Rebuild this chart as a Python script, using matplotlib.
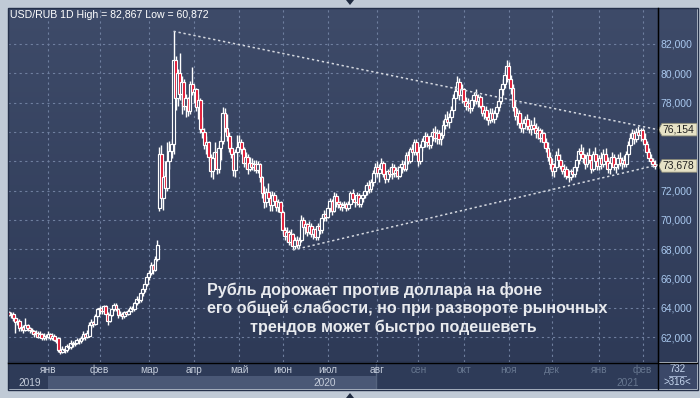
import matplotlib
matplotlib.use("Agg")
import matplotlib.pyplot as plt
import numpy as np
from matplotlib.patches import Rectangle, Polygon
from matplotlib.colors import LinearSegmentedColormap

# ─── Data: daily USD/RUB candles (open, high, low, close), per month ─────────
dec19 = [(63.7, 63.8, 63.4, 63.5), (63.5, 63.7, 63.3, 63.6), (63.6, 63.7, 63.1, 63.3), (63.3, 63.4, 62.3, 63.0),
         (63.0, 63.3, 62.8, 63.1), (63.1, 63.2, 62.4, 62.6), (62.6, 62.9, 62.4, 62.7), (62.7, 62.8, 62.3, 62.5),
         (62.5, 63.3, 62.4, 62.8), (62.8, 62.9, 62.4, 62.6), (62.6, 62.7, 62.3, 62.5), (62.5, 62.6, 62.2, 62.4),
         (62.4, 62.5, 62.0, 62.2), (62.2, 62.5, 62.1, 62.3), (62.3, 62.4, 61.9, 62.0), (62.0, 62.4, 61.9, 62.2),
         (62.2, 62.3, 61.8, 61.9), (61.9, 62.3, 61.8, 62.1), (62.1, 62.2, 61.8, 62.0)]
jan20 = [(62.0, 62.4, 61.9, 62.2), (62.2, 62.3, 61.8, 61.9), (61.9, 62.3, 61.8, 62.1), (62.1, 62.2, 61.7, 61.8),
         (61.8, 62.0, 61.6, 61.7), (61.9, 62.0, 61.0, 61.1), (61.1, 61.3, 60.87, 61.0), (61.0, 61.4, 60.9, 61.2),
         (61.2, 61.3, 60.9, 61.1), (61.1, 61.5, 61.0, 61.4), (61.4, 61.6, 61.2, 61.3), (61.3, 61.8, 61.2, 61.6),
         (61.6, 61.7, 61.3, 61.5), (61.5, 61.8, 61.4, 61.6), (61.6, 61.9, 61.5, 61.8), (61.8, 61.9, 61.5, 61.7),
         (61.7, 62.1, 61.6, 61.9), (61.9, 62.4, 61.8, 62.2), (62.2, 62.3, 61.8, 62.0), (62.0, 62.5, 61.9, 62.3),
         (62.1, 63.0, 62.0, 62.8), (62.8, 63.2, 62.6, 63.0), (63.0, 63.1, 62.7, 62.9), (62.9, 63.6, 62.8, 63.4),
         (63.4, 64.0, 63.3, 63.9)]
feb20 = [(63.9, 64.1, 63.6, 64.0), (64.0, 64.1, 63.6, 63.8), (63.8, 64.2, 63.7, 64.1), (64.1, 64.2, 63.5, 63.6),
         (63.6, 63.7, 62.8, 63.1), (63.1, 63.7, 63.0, 63.5), (63.5, 64.0, 63.4, 63.9), (63.9, 64.3, 63.8, 64.2),
         (64.2, 64.3, 63.8, 63.9), (63.9, 64.0, 63.3, 63.5), (63.5, 63.8, 63.4, 63.6), (63.6, 63.7, 63.2, 63.4),
         (63.4, 63.8, 63.3, 63.7), (63.7, 63.8, 63.4, 63.6), (63.6, 63.9, 63.5, 63.8), (63.8, 64.1, 63.7, 64.0),
         (64.0, 64.1, 63.7, 63.9), (63.9, 64.4, 63.8, 64.3), (64.3, 64.8, 64.2, 64.6), (64.6, 64.8, 64.3, 64.5),
         (64.5, 65.1, 64.4, 65.0), (65.0, 65.4, 64.8, 65.3), (65.3, 65.8, 65.1, 65.6), (65.6, 66.3, 65.5, 66.1)]
mar20 = [(66.1, 66.6, 65.9, 66.4), (66.4, 67.1, 66.2, 66.9), (66.9, 67.0, 66.3, 66.6), (66.6, 67.5, 66.5, 67.3),
         (67.3, 68.6, 67.2, 68.3), (70.8, 75.0, 70.6, 74.5), (74.5, 75.1, 70.8, 71.5), (71.5, 73.3, 70.7, 72.9),
         (73.0, 74.0, 71.9, 72.2), (72.2, 75.3, 72.0, 74.0), (74.0, 75.4, 73.5, 74.7), (74.7, 75.5, 74.2, 75.2),
         (75.2, 82.867, 74.5, 80.9), (80.9, 81.2, 77.5, 78.3), (78.3, 80.3, 77.8, 80.0), (80.0, 81.4, 78.2, 78.6),
         (78.6, 79.8, 77.2, 79.4), (79.4, 79.6, 77.5, 77.8), (77.8, 78.6, 77.0, 78.3), (78.3, 78.4, 77.1, 77.4),
         (77.4, 79.5, 77.2, 79.3), (79.3, 80.4, 78.5, 78.7)]
apr20 = [(78.7, 79.2, 78.0, 78.9), (78.9, 79.0, 77.4, 77.7), (77.7, 78.6, 76.9, 78.2), (78.2, 78.3, 75.9, 76.2),
         (76.2, 77.0, 75.6, 76.0), (76.0, 76.3, 74.8, 75.1), (75.1, 75.7, 74.5, 75.3), (75.3, 75.4, 74.0, 74.3),
         (74.3, 74.5, 72.9, 73.3), (73.3, 74.6, 72.8, 74.2), (74.2, 75.3, 73.9, 74.6), (74.6, 74.8, 73.1, 73.5),
         (73.5, 75.1, 73.2, 74.9), (74.9, 75.7, 74.1, 75.4), (75.4, 77.7, 75.2, 77.3), (77.3, 77.6, 76.0, 76.3),
         (76.3, 77.2, 75.4, 75.7), (75.7, 76.0, 74.6, 74.9), (74.9, 75.3, 74.2, 74.5), (74.5, 74.7, 73.0, 73.4),
         (73.4, 74.8, 72.9, 74.6), (74.6, 75.8, 74.1, 75.0)]
may20 = [(75.0, 75.8, 74.7, 75.3), (75.3, 75.5, 74.5, 74.8), (74.8, 75.0, 73.6, 73.9), (73.9, 74.6, 73.5, 74.3),
         (74.3, 74.5, 73.1, 73.5), (73.5, 74.3, 73.3, 73.9), (73.9, 74.2, 73.4, 73.6), (73.6, 74.1, 73.3, 73.8),
         (73.8, 74.1, 73.2, 73.4), (73.4, 74.0, 73.2, 73.8), (73.8, 73.9, 72.6, 72.9), (72.9, 73.0, 71.5, 71.8),
         (71.8, 72.3, 70.8, 71.2), (71.2, 72.2, 70.9, 71.9), (71.9, 72.5, 71.3, 71.5), (71.5, 71.9, 70.6, 71.0),
         (71.0, 72.0, 70.6, 71.7), (71.7, 71.9, 71.0, 71.3), (71.3, 71.6, 70.6, 70.9), (70.9, 71.4, 70.5, 71.2),
         (71.2, 71.3, 70.1, 70.5)]
jun20 = [(70.5, 70.6, 69.0, 69.3), (69.3, 69.5, 68.6, 68.9), (68.9, 69.5, 68.5, 69.2), (69.2, 69.3, 68.3, 68.5),
         (68.5, 69.4, 68.3, 69.0), (69.0, 69.1, 68.0, 68.2), (68.2, 68.8, 68.0, 68.6), (68.6, 68.9, 68.1, 68.3),
         (68.3, 68.8, 68.1, 68.6), (68.6, 70.3, 68.5, 70.0), (70.0, 70.2, 69.3, 69.5), (69.5, 69.9, 69.0, 69.7),
         (69.7, 69.8, 68.9, 69.2), (69.2, 69.9, 69.0, 69.6), (69.6, 69.8, 68.8, 69.0), (69.0, 69.6, 68.7, 69.4),
         (69.4, 69.5, 68.6, 68.8), (68.8, 69.8, 68.6, 69.6), (69.6, 69.9, 69.0, 69.3), (69.3, 70.3, 69.1, 70.1),
         (70.1, 70.7, 69.9, 70.4), (70.4, 70.6, 69.9, 70.2)]
jul20 = [(70.2, 71.0, 70.1, 70.8), (70.8, 71.5, 70.5, 71.3), (71.3, 71.4, 70.3, 70.6), (70.6, 71.9, 70.5, 71.6),
         (71.6, 71.8, 70.9, 71.2), (71.2, 71.5, 70.8, 71.1), (71.1, 71.3, 70.7, 70.9), (70.9, 71.2, 70.6, 71.0),
         (71.0, 71.3, 70.8, 71.1), (71.1, 71.2, 70.6, 70.8), (70.8, 71.3, 70.7, 71.1), (71.1, 72.0, 71.0, 71.8),
         (71.8, 72.1, 71.2, 71.4), (71.4, 71.6, 70.9, 71.2), (71.2, 71.9, 71.0, 71.7), (71.7, 71.8, 70.9, 71.1),
         (71.1, 71.7, 70.9, 71.5), (71.5, 71.9, 71.2, 71.7), (71.7, 72.3, 71.5, 72.0), (72.0, 72.6, 71.7, 72.4),
         (72.4, 72.7, 71.8, 72.1), (72.1, 72.8, 71.9, 72.6), (72.6, 73.4, 72.3, 73.2), (73.2, 73.9, 72.9, 73.6)]
aug20 = [(73.6, 74.0, 72.9, 73.2), (73.2, 73.8, 72.6, 73.5), (73.5, 74.2, 73.2, 73.9), (73.9, 74.0, 72.9, 73.1),
         (73.1, 73.4, 72.5, 72.8), (72.8, 73.5, 72.6, 73.3), (73.3, 73.6, 72.9, 73.1), (73.1, 73.9, 72.8, 73.6),
         (73.6, 73.8, 72.9, 73.2), (73.2, 73.6, 72.9, 73.4), (73.4, 73.7, 72.8, 73.0), (73.0, 73.8, 72.9, 73.6),
         (73.6, 74.1, 73.2, 73.8), (73.8, 74.0, 73.3, 73.5), (73.5, 74.6, 73.3, 74.4), (74.4, 74.7, 73.8, 74.0),
         (74.0, 75.0, 73.9, 74.8), (74.8, 75.2, 74.3, 74.6), (74.6, 75.5, 74.4, 75.3), (75.3, 75.5, 74.4, 74.6)]
sep20 = [(74.6, 74.8, 73.7, 74.0), (74.0, 75.2, 73.8, 75.0), (75.0, 75.6, 74.7, 75.4), (75.4, 76.0, 75.0, 75.7),
         (75.7, 75.9, 75.0, 75.3), (75.3, 75.6, 74.8, 75.1), (75.1, 75.9, 74.9, 75.7), (75.7, 76.3, 75.4, 76.0),
         (76.0, 76.4, 75.3, 75.6), (75.6, 76.2, 75.2, 75.9), (75.9, 76.1, 75.2, 75.5), (75.5, 76.0, 75.1, 75.8),
         (75.8, 76.8, 75.6, 76.5), (76.5, 77.2, 76.2, 76.9), (76.9, 77.4, 76.4, 76.7), (76.7, 77.3, 76.3, 77.0),
         (77.0, 77.8, 76.7, 77.5), (77.5, 78.6, 77.2, 78.3), (78.3, 79.1, 77.9, 78.8), (78.8, 79.8, 78.3, 79.4),
         (79.4, 79.7, 78.2, 78.5), (78.5, 79.3, 78.0, 78.9)]
oct20 = [(78.9, 79.0, 77.9, 78.1), (78.1, 78.4, 77.5, 77.8), (77.8, 78.3, 77.4, 78.0), (78.0, 78.2, 77.3, 77.6),
         (77.6, 78.4, 77.4, 78.2), (78.2, 78.7, 77.8, 78.5), (78.5, 78.9, 77.9, 78.1), (78.1, 78.6, 77.7, 78.4),
         (78.4, 78.5, 77.6, 77.8), (77.8, 78.0, 77.1, 77.3), (77.3, 77.7, 76.9, 77.5), (77.5, 77.8, 76.8, 77.0),
         (77.0, 77.4, 76.5, 76.8), (76.8, 77.6, 76.6, 77.3), (77.3, 77.6, 76.7, 76.9), (76.9, 77.5, 76.6, 77.3),
         (77.3, 77.9, 77.0, 77.7), (77.7, 78.4, 77.4, 78.1), (78.1, 79.1, 77.9, 78.9), (78.9, 79.6, 78.5, 79.3),
         (79.3, 80.2, 79.0, 79.9), (79.9, 80.9, 79.4, 80.5)]
nov20 = [(80.5, 80.8, 79.3, 79.6), (79.6, 79.9, 78.6, 79.0), (79.0, 79.3, 77.4, 77.7), (77.7, 78.2, 76.8, 77.1),
         (77.1, 77.6, 76.5, 77.3), (77.3, 77.5, 76.3, 76.6), (76.6, 77.2, 76.0, 76.3), (76.3, 76.9, 75.9, 76.6),
         (76.6, 77.1, 76.2, 76.9), (76.9, 77.2, 76.1, 76.4), (76.4, 76.9, 75.9, 76.2), (76.2, 76.8, 75.8, 76.5),
         (76.5, 77.0, 76.1, 76.3), (76.3, 76.6, 75.6, 75.9), (75.9, 76.4, 75.5, 76.1), (76.1, 76.3, 75.3, 75.6),
         (75.6, 76.2, 75.3, 75.9), (75.9, 76.0, 75.0, 75.3), (75.3, 75.6, 74.6, 74.9), (74.9, 75.3, 74.0, 74.3),
         (74.3, 74.6, 73.5, 73.8)]
dec20 = [(73.8, 74.2, 73.0, 73.3), (73.3, 73.9, 72.9, 73.6), (73.6, 74.7, 73.4, 74.4), (74.4, 74.9, 73.9, 74.1),
         (74.1, 74.5, 73.5, 73.7), (73.7, 74.0, 73.1, 73.3), (73.3, 73.8, 72.9, 73.5), (73.5, 73.7, 72.8, 73.0),
         (73.0, 73.4, 72.6, 72.9), (72.9, 73.5, 72.7, 73.3), (73.3, 73.6, 72.9, 73.1), (73.1, 73.8, 72.9, 73.6),
         (73.6, 74.4, 73.3, 74.1), (74.1, 74.9, 73.8, 74.7), (74.7, 75.2, 74.2, 74.5), (74.5, 75.0, 73.9, 74.2),
         (74.2, 74.5, 73.5, 73.8), (73.8, 74.6, 73.6, 74.4), (74.4, 74.9, 73.9, 74.1), (74.1, 74.3, 73.2, 73.5),
         (73.5, 74.7, 73.3, 74.5), (74.5, 75.0, 73.8, 74.0), (74.0, 74.5, 73.4, 73.7)]
jan21 = [(73.7, 74.4, 73.4, 74.2), (74.2, 74.6, 73.5, 73.8), (73.8, 74.8, 73.6, 74.5), (74.5, 74.9, 73.7, 74.0),
         (74.0, 74.3, 73.2, 73.5), (73.5, 74.2, 73.1, 73.9), (73.9, 74.6, 73.6, 74.3), (74.3, 74.5, 73.4, 73.6),
         (73.6, 74.0, 73.2, 73.8), (73.8, 74.5, 73.5, 74.2), (74.2, 74.6, 73.7, 73.9), (73.9, 74.3, 73.5, 74.1),
         (74.1, 74.4, 73.6, 73.8), (73.8, 74.7, 73.6, 74.5), (74.5, 75.4, 74.3, 75.1), (75.1, 75.9, 74.8, 75.6),
         (75.6, 76.2, 75.2, 75.9), (75.9, 76.1, 75.2, 75.5), (75.5, 76.3, 75.3, 76.0), (76.0, 76.4, 75.5, 75.8),
         (75.8, 76.3, 75.4, 76.1)]
feb21 = [(76.1, 76.3, 75.3, 75.5), (75.5, 75.9, 74.9, 75.2), (75.2, 75.4, 74.4, 74.6), (74.6, 74.9, 74.0, 74.2),
         (74.2, 74.5, 73.8, 74.0), (74.0, 74.2, 73.6, 73.8), (73.8, 74.1, 73.5, 73.678)]

months = [dec19, jan20, feb20, mar20, apr20, may20, jun20, jul20, aug20, sep20, oct20, nov20, dec20, jan21, feb21]
month_labels = ["", "янв", "фев", "мар", "апр", "май", "июн", "июл", "авг", "сен", "окт", "ноя", "дек", "янв", "фев"]
year_labels = ["2019", "2020", "2021"]

price_ticks = [62, 64, 66, 68, 70, 72, 74, 76, 78, 80, 82]
upper_trend = ([80, 315.5], [82.867, 76.154])   # (bar index, price)
lower_trend = ([138, 315.5], [67.94, 73.75])
last_high, last_close = 76.154, 73.678
high_all, low_all = 82.867, 60.872
bars_total, bars_visible = 732, 316

caption = ["Рубль дорожает против доллара на фоне",
           "его общей слабости, но при развороте рыночных",
           "трендов может быстро подешеветь"]

# ─── Flatten ──────────────────────────────────────────────────────────────────
ohlc = np.array([bar for m in months for bar in m])
o, h, l, c = ohlc.T
idx = np.arange(len(ohlc))
month_start = np.cumsum([0] + [len(m) for m in months])[:-1]

def rus(v):
    # 82.867 -> "82,867"
    return f"{v:.3f}".replace(".", ",")

# ─── Layout helpers (pixels of a 700x398 image) ──────────────────────────────
W, H = 700, 398
def box(x0, y0, x1, y1):
    return [x0 / W, 1 - y1 / H, (x1 - x0) / W, (y1 - y0) / H]

XL = (-0.49, 315.5)
YL = (60.294, 84.457)
GRID = "#6f7f9f"
LIGHT = "#c5cddb"
DIM = "#66768f"

fig = plt.figure(figsize=(7, 3.98), dpi=100)
fig.patch.set_facecolor("#c0cad6")
plt.rcParams["font.family"] = ["Liberation Sans", "DejaVu Sans"]

# background gradient behind plot + price axis
bg = fig.add_axes(box(8, 8, 697, 362))
cmap = LinearSegmentedColormap.from_list("bg", ["#3e4b69", "#2e3a57"])
bg.imshow(np.linspace(0, 1, 256)[:, None], aspect="auto", cmap=cmap, extent=(0, 1, 0, 1))
bg.axis("off")

# ─── Main candle axes ─────────────────────────────────────────────────────────
ax = fig.add_axes(box(8, 8, 658, 362))
ax.set_facecolor("none")
ax.set_xlim(*XL)
ax.set_ylim(*YL)

for v in price_ticks:
    ax.axhline(v, color=GRID, lw=0.8, ls=(0, (2, 3)), zorder=1)
for s in month_start[1:]:
    ax.axvline(s, color=GRID, lw=0.8, ls=(0, (2, 3)), zorder=1)

up = c >= o
faces = np.where(up, "#34405e", "#e0102c")
bottoms = np.minimum(o, c)
heights = np.maximum(np.abs(c - o), 0.06)
ax.vlines(idx, l, h, colors="white", lw=1, zorder=3)
ax.bar(idx, heights, bottom=bottoms, width=1.4, color=faces,
       edgecolor="white", linewidth=0.85, zorder=4)

ax.plot(*upper_trend, color="#d4d8e0", lw=1.1, ls=(0, (1.5, 1.8)), zorder=5)
ax.plot(*lower_trend, color="#d4d8e0", lw=1.1, ls=(0, (1.5, 1.8)), zorder=5)

# price labels; 74 and 76 sit under the price tags, as in the terminal
ax.yaxis.tick_right()
ax.set_yticks(price_ticks)
ax.set_yticklabels(["" if v in (74, 76) else f"{v},000" for v in price_ticks])
ax.tick_params(axis="y", length=0, pad=2, labelsize=7.5, labelcolor="#a9c8ee")
ax.set_xticks([])
for side in ("left", "top"):
    ax.spines[side].set_visible(False)
ax.spines["right"].set_color("black")
ax.spines["bottom"].set_color("black")

fig.text(10 / W, 1 - 15 / H, f"USD/RUB 1D High = {rus(high_all)} Low = {rus(low_all)}",
         color="white", fontsize=7.6, va="center", ha="left")

for k, line in enumerate(caption):
    x0 = [207, 207, 250][k]
    fig.text(x0 / W, 1 - (290 + 18.5 * k) / H, line, color="#e8eaee",
             fontsize=11.6, fontweight="bold", va="center", ha="left")

# ─── Price tags on the right axis ─────────────────────────────────────────────
tag = fig.add_axes(box(657, 8, 697, 362))
tag.set_xlim(0, 40)
tag.set_ylim(*YL)
tag.axis("off")
hh = 6.3 / 14.65
for v in (last_high, last_close):
    tag.add_patch(Polygon([(1.5, v), (5, v + hh), (40, v + hh), (40, v - hh), (5, v - hh)],
                          closed=True, facecolor="#e6e2c6", edgecolor="#8c8c78", lw=0.6, zorder=5))
    tag.text(5.2, v, rus(v), color="#202020", fontsize=7.5, va="center", ha="left", zorder=6)

# ─── Bottom time axis ─────────────────────────────────────────────────────────
bot = fig.add_axes(box(8, 362, 658, 389))
bot.set_xlim(*XL)
bot.set_ylim(389, 362)
bot.axis("off")
px_to_idx = lambda x: (x - 9) / 2.057
bot.add_patch(Rectangle((XL[0], 362), XL[1] - XL[0], 27, facecolor="#2e3b58", lw=0))
bot.add_patch(Rectangle((month_start[1], 376), month_start[8] - 0.5 - month_start[1], 13,
                        facecolor="#4a5876", lw=0))
bot.axvline(month_start[8] - 0.5, color="#56647f", lw=1)
for s, lab in zip(month_start, month_labels):
    if lab:
        bot.text(s, 370, lab, color=LIGHT if s < month_start[9] else DIM,
                 fontsize=7.3, ha="center", va="center")
bot.text(px_to_idx(30), 383, year_labels[0], color=LIGHT, fontsize=7.3, ha="center", va="center")
bot.text(px_to_idx(325), 383, year_labels[1], color=LIGHT, fontsize=7.3, ha="center", va="center")
bot.text(px_to_idx(628), 383, year_labels[2], color=DIM, fontsize=7.3, ha="center", va="center")

# bottom-right counter box
cnt = fig.add_axes(box(658, 363, 697, 389))
cnt.set_facecolor("#3b4868")
cnt.set_xlim(0, 39)
cnt.set_ylim(26, 0)
cnt.set_xticks([]); cnt.set_yticks([])
for sp in cnt.spines.values():
    sp.set_visible(False)
cnt.text(19.5, 6.5, str(bars_total), color="#c8d8f0", fontsize=7, ha="center", va="center")
cnt.plot([11, 28], [12.5, 12.5], color="#9aaac8", lw=0.7)
cnt.text(19.5, 19, f">{bars_visible}<", color="#c8d8f0", fontsize=7, ha="center", va="center")

# frame lines
fig.add_artist(plt.Line2D([8 / W, 697 / W], [1 - 362.5 / H] * 2, color="black", lw=1))
fig.add_artist(plt.Line2D([657.5 / W] * 2, [1 - 8 / H, 1 - 389 / H], color="black", lw=1))
fig.add_artist(Rectangle((7.5 / W, 1 - 389.5 / H), 690 / W, 382 / H, transform=fig.transFigure,
                         fill=False, edgecolor="#24304a", lw=1))
fig.add_artist(Polygon([(346 / W, 1.0), (354 / W, 1.0), (350 / W, 1 - 5 / H)], closed=True,
                       transform=fig.transFigure, facecolor="#1e2a40", lw=0))
fig.add_artist(Polygon([(346 / W, 0.0), (354 / W, 0.0), (350 / W, 5 / H)], closed=True,
                       transform=fig.transFigure, facecolor="#1e2a40", lw=0))

fig.savefig("out.png", dpi=100, facecolor=fig.get_facecolor())
plt.close(fig)
